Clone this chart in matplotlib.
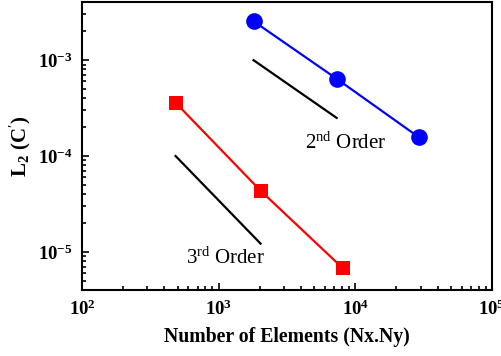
import math
import matplotlib
matplotlib.use("Agg")
import matplotlib.pyplot as plt
from matplotlib.ticker import FuncFormatter, LogLocator, NullFormatter

plt.rcParams['font.family'] = ['Liberation Serif', 'DejaVu Serif']
plt.rcParams['mathtext.fontset'] = 'custom'
plt.rcParams['mathtext.rm'] = 'Liberation Serif'
plt.rcParams['mathtext.bf'] = 'Liberation Serif:bold'
plt.rcParams['mathtext.it'] = 'Liberation Serif:italic'

# Data
blue_x = [1800, 7300, 29000]
blue_y = [2.55e-3, 6.4e-4, 1.58e-4]
red_x = [484, 2025, 8100]
red_y = [3.6e-4, 4.35e-5, 6.75e-6]
order2_x = [1800, 7300]
order2_y = [1.0e-3, 2.5e-4]
order3_x = [484, 2025]
order3_y = [1.0e-4, 1.22e-5]
xlim = (1e2, 1e5)
ylim = (4e-6, 4e-3)

fig = plt.figure(figsize=(5.01, 3.56), dpi=100)
ax = fig.add_axes([0.1637, 0.1854, 0.8183, 0.8076])

ax.plot(blue_x, blue_y, color='#0000ff', lw=1.6, marker='o', ms=12,
        markeredgewidth=0, zorder=3)
ax.plot(red_x, red_y, color='#ff0000', lw=1.6, marker='s', ms=9.5,
        markeredgewidth=0, zorder=3)
ax.plot(order2_x, order2_y, color='black', lw=1.6)
ax.plot(order3_x, order3_y, color='black', lw=1.6)

ax.text(4280, 1.36e-4, r'2$^{\mathrm{nd}}$ Order', fontsize=15,
        va='center', ha='left')
ax.text(577, 8.6e-6, r'3$^{\mathrm{rd}}$ Order', fontsize=15,
        va='center', ha='left')

ax.set_xscale('log')
ax.set_yscale('log')
ax.set_xlim(*xlim)
ax.set_ylim(*ylim)

fmt = FuncFormatter(lambda v, p: r'$\mathbf{10^{%d}}$' % round(math.log10(v)))
ax.xaxis.set_major_locator(LogLocator(base=10, numticks=10))
ax.yaxis.set_major_locator(LogLocator(base=10, numticks=10))
ax.xaxis.set_major_formatter(fmt)
ax.yaxis.set_major_formatter(fmt)
ax.xaxis.set_minor_formatter(NullFormatter())
ax.yaxis.set_minor_formatter(NullFormatter())

ax.tick_params(which='both', direction='in', top=False, right=False,
               labelsize=13.5, width=1.2)
ax.tick_params(which='major', length=5, pad=7)
ax.tick_params(which='minor', length=3)

for s in ax.spines.values():
    s.set_linewidth(1.5)

ax.set_xlabel('Number of Elements (Nx.Ny)', fontsize=14.2, fontweight='bold')
ax.xaxis.set_label_coords(0.5, -0.13)
ax.set_ylabel(r'L$_\mathbf{2}$ (C$^{\prime}$)', fontsize=15, fontweight='bold')
ax.yaxis.set_label_coords(-0.119, 0.5)

fig.savefig('out.png', dpi=100)
